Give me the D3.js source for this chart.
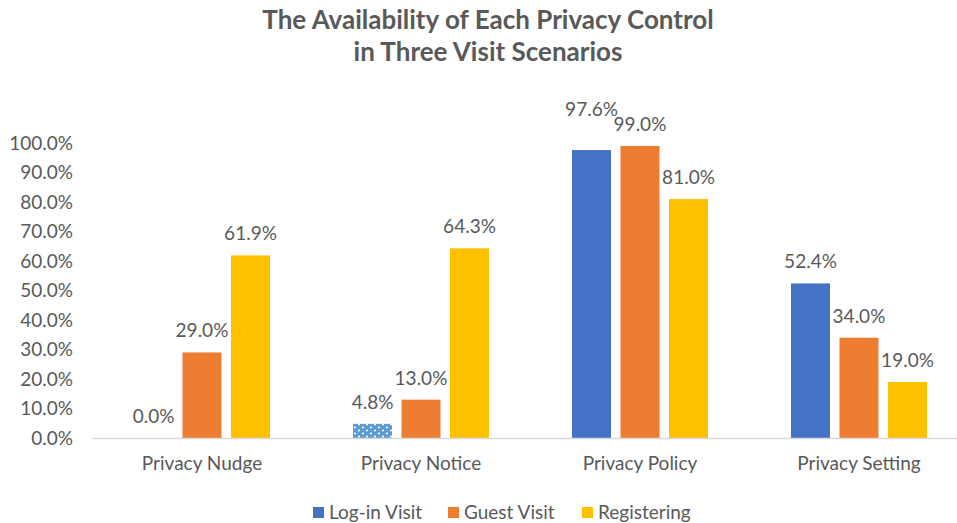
<!DOCTYPE html>
<html>
<head>
<meta charset="utf-8">
<script src="https://cdn.jsdelivr.net/npm/d3@7/dist/d3.min.js"></script>
<style>
  html, body { margin: 0; padding: 0; background: #fff; }
  svg { display: block; font-family: Lato, "Liberation Sans", sans-serif; }
</style>
</head>
<body>
<svg id="chart" width="957" height="523"></svg>
<script>
const categories = ["Privacy Nudge", "Privacy Notice", "Privacy Policy", "Privacy Setting"];
const seriesNames = ["Log-in Visit", "Guest Visit", "Registering"];
const loginVisit = [0.0, 0.048, 0.976, 0.524];
const guestVisit = [0.29, 0.13, 0.99, 0.34];
const registering = [0.619, 0.643, 0.81, 0.19];
const yTicks = [0, 0.1, 0.2, 0.3, 0.4, 0.5, 0.6, 0.7, 0.8, 0.9, 1.0];
const titleLines = ["The Availability of Each Privacy Control", "in Three Visit Scenarios"];

const seriesValues = [loginVisit, guestVisit, registering];
const colors = ["#4472C4", "#ED7D31", "#FFC000"];
const textColor = "#595959";
const fontSize = 19;

const svg = d3.select("#chart");

// dotted pattern for the highlighted bar
const defs = svg.append("defs");
const pat = defs.append("pattern").attr("id", "dots").attr("patternUnits", "userSpaceOnUse")
  .attr("width", 8).attr("height", 6);
pat.append("rect").attr("width", 8).attr("height", 6).attr("fill", "#5B9BD5");
pat.append("circle").attr("cx", 2).attr("cy", 1.5).attr("r", 1.1).attr("fill", "#fff");
pat.append("circle").attr("cx", 6).attr("cy", 4.5).attr("r", 1.1).attr("fill", "#fff");

const x0 = d3.scaleBand().domain(categories).range([92.5, 968.5]).paddingInner(0.379).paddingOuter(0.1895);
const x1 = d3.scaleBand().domain(seriesNames).range([0, x0.bandwidth()]).paddingInner(0.196);
const y = d3.scaleLinear().domain([0, 1]).range([438, 143]);

// title
svg.append("text").attr("text-anchor", "middle")
  .attr("font-size", 26).attr("font-weight", "bold").attr("fill", textColor)
  .selectAll("tspan").data(titleLines).join("tspan")
  .attr("x", 488).attr("y", (d, i) => 29 + i * 32).text(d => d);

// y axis (labels only)
const yAxis = d3.axisLeft(y).tickValues(yTicks).tickFormat(d3.format(".1%")).tickSize(0).tickPadding(0);
const yg = svg.append("g").attr("transform", "translate(73,0)").call(yAxis);
yg.select(".domain").remove();
yg.selectAll("text").attr("font-size", fontSize).attr("fill", textColor).attr("font-family", "Lato, 'Liberation Sans', sans-serif");

// bars
const rows = categories.map((c, i) => seriesNames.map((s, j) => ({ cat: c, series: s, j, value: seriesValues[j][i] })));
const groups = svg.append("g").selectAll("g").data(rows).join("g")
  .attr("transform", d => `translate(${x0(d[0].cat)},0)`);

groups.selectAll("rect").data(d => d).join("rect")
  .attr("x", d => x1(d.series))
  .attr("width", x1.bandwidth())
  .attr("y", d => y(d.value))
  .attr("height", d => y(0) - y(d.value))
  .attr("fill", d => (d.cat === "Privacy Notice" && d.j === 0) ? "url(#dots)" : colors[d.j]);

// data labels with simple collision avoidance (raise the left label above its neighbour)
groups.each(function(d) {
  const g = d3.select(this);
  const labels = g.selectAll("text.lbl").data(d).join("text").attr("class", "lbl")
    .attr("x", e => x1(e.series) + x1.bandwidth() / 2)
    .attr("y", e => y(e.value) - 15)
    .attr("text-anchor", "middle")
    .attr("font-size", fontSize).attr("fill", textColor)
    .text(e => d3.format(".1%")(e.value));
  const nodes = labels.nodes();
  for (let k = nodes.length - 2; k >= 0; k--) {
    const a = nodes[k].getBBox(), b = nodes[k + 1].getBBox();
    const overlapX = a.x + a.width > b.x && b.x + b.width > a.x;
    const overlapY = a.y + a.height > b.y && b.y + b.height > a.y;
    if (overlapX && overlapY) {
      const cur = +nodes[k].getAttribute("y");
      nodes[k].setAttribute("y", cur - (a.y + a.height - b.y) + 8);
    }
  }
});

// x axis
const xAxis = d3.axisBottom(x0).tickSize(0).tickPadding(19);
const xg = svg.append("g").attr("transform", `translate(0,${y(0)})`).call(xAxis);
xg.select(".domain").attr("stroke", "#D9D9D9").attr("stroke-width", 1.3).attr("d", "M92.5,0.5H957");
xg.selectAll("text").attr("font-size", fontSize).attr("fill", textColor).attr("font-family", "Lato, 'Liberation Sans', sans-serif");

// legend
const legendX = [313, 448, 582];
const lg = svg.append("g").selectAll("g").data(seriesNames).join("g")
  .attr("transform", (d, i) => `translate(${legendX[i]},507)`);
lg.append("rect").attr("width", 11).attr("height", 11).attr("fill", (d, i) => colors[i]);
lg.append("text").attr("x", 16).attr("y", 12).attr("font-size", fontSize).attr("fill", textColor).text(d => d);
</script>
</body>
</html>
